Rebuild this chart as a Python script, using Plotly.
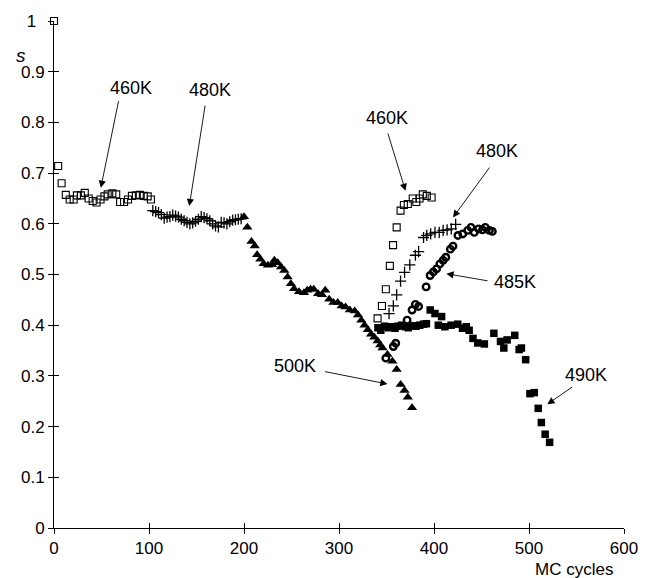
import plotly.graph_objects as go

# ---- data (MC cycles, order parameter s) ----
x_460a = [0, 4.4, 8.0, 12.4, 16.5, 20.7, 24.1, 28.3, 32.4, 36.5, 40.7, 44.8, 49.0, 53.1, 56.5,
          61.4, 65.5, 69.6, 73.8, 77.9, 82.0, 86.2, 90.3, 94.5, 98.6, 102.0]
s_460a = [1.0, 0.714, 0.680, 0.657, 0.648, 0.648, 0.656, 0.656, 0.661, 0.650, 0.645, 0.642, 0.648,
          0.654, 0.658, 0.660, 0.658, 0.643, 0.643, 0.648, 0.655, 0.656, 0.657, 0.655, 0.654, 0.648]

x_480a = [104, 107, 110, 113, 116, 119, 122, 125, 128, 131, 134, 137, 140, 143, 146, 149, 152,
          155, 158, 161, 164, 167, 170, 173, 176, 179, 182, 185, 188, 191, 194, 197]
s_480a = [0.626, 0.624, 0.622, 0.618, 0.611, 0.613, 0.614, 0.617, 0.615, 0.613, 0.609, 0.606,
          0.603, 0.600, 0.602, 0.605, 0.609, 0.614, 0.612, 0.610, 0.606, 0.600, 0.596, 0.594,
          0.603, 0.602, 0.600, 0.604, 0.607, 0.608, 0.609, 0.610]

x_500 = [200, 203.5, 207.9, 211.3, 213.8, 217.2, 220.6, 225.2, 229.6, 232, 235.5, 239, 242.4,
         245.9, 249.3, 252.7, 257.9, 263.1, 266.6, 270, 273.4, 278, 282.1, 285.5, 289.7, 294.1,
         298.6, 302.8, 306.9, 311.4, 316.5, 320, 323.5, 326.9, 330.3, 333.8, 337.2, 340.6,
         343.4, 345.8, 351, 356.2, 360.7, 364.9, 369, 372.4, 376.9]
s_500 = [0.614, 0.593, 0.565, 0.556, 0.539, 0.530, 0.521, 0.518, 0.519, 0.528, 0.523, 0.515,
         0.508, 0.495, 0.482, 0.472, 0.466, 0.464, 0.469, 0.471, 0.471, 0.462, 0.460, 0.469,
         0.451, 0.445, 0.445, 0.438, 0.436, 0.430, 0.428, 0.420, 0.410, 0.400, 0.391, 0.382,
         0.376, 0.369, 0.361, 0.355, 0.342, 0.329, 0.3125, 0.283, 0.271, 0.258, 0.237]

x_460b = [340.6, 345.2, 349.3, 353.5, 356.9, 360.7, 364.8, 368.3, 372.4, 377.6, 381.4, 384.8,
          388.2, 392.4, 397.5]
s_460b = [0.4135, 0.438, 0.471, 0.517, 0.558, 0.593, 0.626, 0.637, 0.639, 0.650, 0.643, 0.650,
          0.658, 0.655, 0.652]

x_480b = [352.7, 357.2, 360.7, 364.8, 369.0, 374.5, 380.4, 383.8, 389.0, 392.4, 396.5, 401.0,
          405.5, 409.6, 413.8, 418.2, 422.8]
s_480b = [0.423, 0.438, 0.460, 0.487, 0.504, 0.519, 0.538, 0.545, 0.573, 0.577, 0.580, 0.583,
          0.583, 0.587, 0.588, 0.590, 0.599]

x_485 = [349.3, 357.2, 359.7, 371.7, 376.9, 380.4, 383.8, 391.7, 395.9, 399.3, 402.7, 406.2,
         409.6, 412.4, 417.2, 420.0, 425.2, 430.3, 435.5, 438.9, 442.4, 446.9, 451.0, 454.0,
         458.3, 461.4]
s_485 = [0.335, 0.358, 0.3645, 0.410, 0.430, 0.441, 0.437, 0.4755, 0.498, 0.505, 0.511, 0.521,
         0.528, 0.534, 0.550, 0.556, 0.577, 0.580, 0.587, 0.593, 0.583, 0.590, 0.588, 0.593,
         0.587, 0.585]

x_490 = [341, 344, 348, 352, 355, 359, 362, 366, 370, 373, 377, 381, 385, 389, 392, 396, 401,
         404.5, 408, 411.4, 418, 425, 430, 434, 437, 441, 446, 453, 463, 470, 473.5, 477, 485,
         489.6, 492, 496.5, 501, 505.5, 509.7, 513, 517, 521.7]
s_490 = [0.395, 0.390, 0.398, 0.395, 0.397, 0.394, 0.398, 0.400, 0.397, 0.395, 0.399, 0.398,
         0.400, 0.402, 0.403, 0.430, 0.423, 0.400, 0.417, 0.397, 0.400, 0.402, 0.394, 0.397,
         0.390, 0.374, 0.365, 0.363, 0.384, 0.368, 0.355, 0.371, 0.380, 0.352, 0.355, 0.332,
         0.265, 0.267, 0.236, 0.208, 0.185, 0.169]

x_ticks = [0, 100, 200, 300, 400, 500, 600]
y_ticks = [0, 0.1, 0.2, 0.3, 0.4, 0.5, 0.6, 0.7, 0.8, 0.9, 1]
y_tick_text = ["0", "0.1", "0.2", "0.3", "0.4", "0.5", "0.6", "0.7", "0.8", "0.9", "1\u2002"]

# labels: (text, text_x, text_y, tail_x, tail_y, tip_x, tip_y)
labels = [
    ("460K", 81.2, 0.867, 68.3, 0.845, 49.3, 0.671),
    ("480K", 164.0, 0.863, 159.3, 0.836, 142.4, 0.635),
    ("460K", 351.0, 0.808, 351.0, 0.781, 370.0, 0.665),
    ("480K", 466.5, 0.743, 459.6, 0.714, 420.0, 0.6125),
    ("485K", 485.5, 0.485, 458.0, 0.487, 413.0, 0.5016),
    ("500K", 253.7, 0.319, 283.7, 0.309, 351.0, 0.284),
    ("490K", 559.6, 0.3027, 546.9, 0.280, 519.3, 0.244),
]

FONT = "Liberation Sans, Arial, sans-serif"

fig = go.Figure()

def add(x, y, symbol, size, lw=1.0, name=""):
    fig.add_trace(go.Scatter(
        x=x, y=y, mode="markers", name=name, cliponaxis=False,
        marker=dict(symbol=symbol, size=size, color="black",
                    line=dict(color="black", width=lw)),
        showlegend=False))

add(x_460a, s_460a, "square-open", 7, 1.1, "460K")
add(x_480a, s_480a, "cross-thin-open", 8, 1.3, "480K")
add(x_500, s_500, "triangle-up", 9, 0, "500K")
add(x_460b, s_460b, "square-open", 7, 1.1, "460K b")
add(x_480b, s_480b, "cross-thin-open", 8, 1.3, "480K b")
add(x_490, s_490, "square", 7.5, 0, "490K")
add(x_485, s_485, "circle-open", 6.5, 2.4, "485K")

# dummy trace for overlay axes (crossing ticks)
fig.add_trace(go.Scatter(x=[], y=[], xaxis="x2", yaxis="y2", showlegend=False))

for (t, tx, ty, ax, ay, px, py) in labels:
    fig.add_annotation(x=tx, y=ty, text=t, showarrow=False,
                       font=dict(family=FONT, size=18, color="black"))
    fig.add_annotation(x=px, y=py, ax=ax, ay=ay, axref="x", ayref="y", text="",
                       showarrow=True, arrowhead=2, arrowsize=1.6, arrowwidth=0.9,
                       arrowcolor="black")

fig.add_annotation(x=0, y=1, xref="paper", yref="paper", text="<i>s</i>", showarrow=False,
                   xshift=-40, yshift=-22, font=dict(family=FONT, size=19, color="black"))
fig.add_annotation(x=1, y=0, xref="paper", yref="paper", text="MC cycles", showarrow=False,
                   xanchor="right", yanchor="top", xshift=-9, yshift=-30,
                   font=dict(family=FONT, size=17, color="black"))

axis_common = dict(showgrid=False, zeroline=False, color="black")
fig.update_layout(
    width=650, height=578,
    margin=dict(l=54, r=16, t=17, b=50),
    paper_bgcolor="white", plot_bgcolor="white",
    font=dict(family=FONT, size=17, color="black"),
    xaxis=dict(range=[0, 600], tickvals=x_ticks, ticktext=[str(v) for v in x_ticks],
               showline=True, linecolor="black", linewidth=1, ticks="outside", ticklen=5,
               tickwidth=1, tickcolor="black", ticklabeloverflow="allow", **axis_common),
    yaxis=dict(range=[0, 1], tickvals=y_ticks, ticktext=y_tick_text,
               showline=True, linecolor="black", linewidth=1, ticks="outside", ticklen=5,
               tickwidth=1, tickcolor="black", ticklabeloverflow="allow", **axis_common),
    xaxis2=dict(range=[0, 600], tickvals=x_ticks, overlaying="x", anchor="y2", side="bottom",
                showticklabels=False, showline=False, ticks="inside", ticklen=5, tickwidth=1,
                tickcolor="black", **axis_common),
    yaxis2=dict(range=[0, 1], tickvals=y_ticks, overlaying="y", anchor="x2", side="left",
                showticklabels=False, showline=False, ticks="inside", ticklen=5, tickwidth=1,
                tickcolor="black", **axis_common),
)

# remove the default 8px page margin so the 650x578 figure fills the window exactly
fig.write_html("out.html", config={"displayModeBar": False},
               post_script="document.body.style.margin='0';document.body.style.overflow='hidden';")
